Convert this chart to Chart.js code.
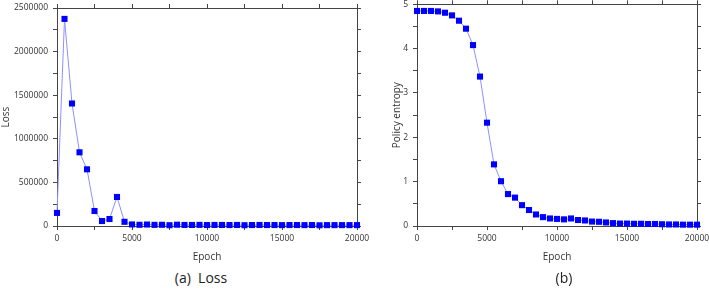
<!DOCTYPE html>
<html>
<head>
<meta charset="utf-8">
<script src="https://cdn.jsdelivr.net/npm/chart.js@4/dist/chart.umd.min.js"></script>
<style>
  body { margin: 0; background: #fff; width: 709px; height: 289px; position: relative; overflow: hidden; }
  canvas { position: absolute; top: 0; }
  #lossChart { left: 0; }
  #entropyChart { left: 362px; }
  .caption { position: absolute; top: 268px; font: 14px "Open Sans", sans-serif; color: #222; transform: translateX(-50%); white-space: pre; }
</style>
</head>
<body>
<canvas id="lossChart" width="378" height="266"></canvas>
<canvas id="entropyChart" width="347" height="266"></canvas>
<div class="caption" style="left:201px">(a)  Loss</div>
<div class="caption" style="left:564px">(b)</div>
<script>
const epochs = [0, 500, 1000, 1500, 2000, 2500, 3000, 3500, 4000, 4500,
  5000, 5500, 6000, 6500, 7000, 7500, 8000, 8500, 9000, 9500,
  10000, 10500, 11000, 11500, 12000, 12500, 13000, 13500, 14000, 14500,
  15000, 15500, 16000, 16500, 17000, 17500, 18000, 18500, 19000, 19500, 20000];

const lossValues = [150000, 2375000, 1405000, 845000, 650000, 172000, 57000, 80000, 333000, 48000,
  18000, 14000, 17000, 13000, 14000, 9000, 15000, 12000, 12000, 13000,
  11000, 12000, 12000, 11000, 12000, 9000, 11000, 12000, 11000, 11000,
  10000, 11000, 11000, 10000, 11000, 8000, 10000, 10000, 10000, 10000, 10000];

const entropyValues = [4.85, 4.85, 4.85, 4.84, 4.81, 4.75, 4.63, 4.45, 4.08, 3.37,
  2.33, 1.39, 1.01, 0.72, 0.64, 0.47, 0.36, 0.26, 0.20, 0.17,
  0.16, 0.15, 0.17, 0.135, 0.125, 0.10, 0.095, 0.08, 0.065, 0.055,
  0.055, 0.05, 0.05, 0.045, 0.045, 0.04, 0.035, 0.035, 0.03, 0.03, 0.03];

const xTicks = ['0', '5000', '10000', '15000', '20000'];

const tickFont = { family: 'Open Sans', size: 8.5 };
const titleFont = { family: 'Open Sans', size: 10 };
const axisColor = '#444';

// fixed axis sizes so the plot area sits where it does in the picture
function frameAxis(pos, size, extra) {
  return Object.assign({
    position: pos,
    grid: { drawOnChartArea: false, tickLength: 4, color: axisColor, tickColor: axisColor },
    border: { color: axisColor, width: 1 },
    ticks: { callback: () => '' },
    afterFit: s => {
      if (pos === 'top' || pos === 'bottom') { s.height = size; s.paddingLeft = 0; s.paddingRight = 0; }
      else { s.width = size; s.paddingTop = 0; s.paddingBottom = 0; }
    }
  }, extra);
}

function makeChart(id, values, yOpts, sizes, yTitle, yTitlePad) {
  const points = epochs.map((e, i) => ({ x: e, y: values[i] }));
  new Chart(document.getElementById(id), {
    type: 'line',
    data: {
      datasets: [{
        data: points,
        borderColor: '#8f8fff',
        borderWidth: 1,
        pointStyle: 'rect',
        pointRadius: 4.3,
        pointBackgroundColor: '#0000ff',
        pointBorderColor: '#0000ff',
        pointBorderWidth: 0,
        tension: 0,
        clip: false
      }]
    },
    options: {
      responsive: false,
      animation: false,
      layout: { padding: 0 },
      plugins: { legend: { display: false }, tooltip: { enabled: false } },
      scales: {
        x: frameAxis('bottom', sizes.bottom, {
          type: 'linear', min: 0, max: 20000,
          ticks: {
            stepSize: 2500, padding: 3, color: '#333', font: tickFont, maxRotation: 0,
            callback: v => (v % 5000 === 0 ? xTicks[v / 5000] : '')
          },
          title: { display: true, text: 'Epoch', color: '#333', font: titleFont, padding: { top: 0, bottom: 3 } }
        }),
        x2: frameAxis('top', sizes.top, {
          type: 'linear', min: 0, max: 20000, ticks: { stepSize: 2500, callback: () => '' }
        }),
        y: frameAxis('left', sizes.left, {
          type: 'linear', min: 0, max: yOpts.max,
          ticks: {
            stepSize: yOpts.step / 2, padding: 5, color: '#333', font: tickFont,
            callback: v => (Math.abs(v / yOpts.step - Math.round(v / yOpts.step)) < 1e-9 ? String(v) : '')
          },
          title: { display: true, text: yTitle, color: '#333', font: titleFont, padding: { top: yTitlePad, bottom: 0 } }
        }),
        y2: frameAxis('right', sizes.right, {
          type: 'linear', min: 0, max: yOpts.max, ticks: { stepSize: yOpts.step / 2, callback: () => '' }
        })
      }
    }
  });
}

makeChart('lossChart', lossValues, { max: 2500000, step: 500000 },
  { left: 57, right: 21, top: 8, bottom: 40 }, 'Loss', 0);
makeChart('entropyChart', entropyValues, { max: 5, step: 1 },
  { left: 55, right: 12, top: 4, bottom: 40 }, 'Policy entropy', 29);
</script>
</body>
</html>
